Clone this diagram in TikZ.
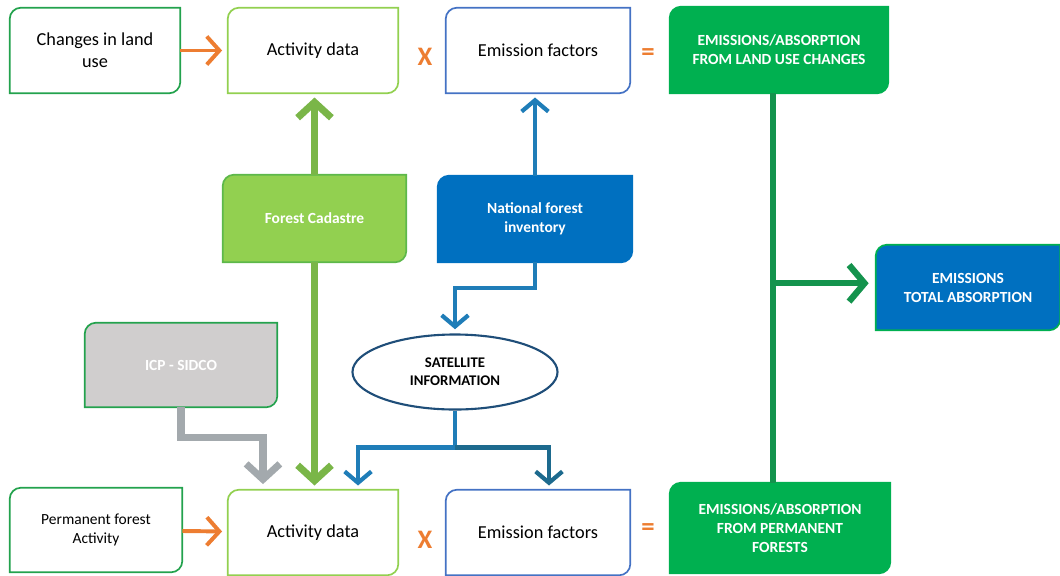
\documentclass[tikz,border=0pt]{standalone}
\usepackage{fontspec}
\setmainfont{Carlito}
\usetikzlibrary{arrows.meta,shapes.geometric,backgrounds}

\definecolor{landgreen}{HTML}{23A24D}
\definecolor{actgreen}{HTML}{92D050}
\definecolor{factorblue}{HTML}{4472C4}
\definecolor{emisgreen}{HTML}{00B050}
\definecolor{cadgreen}{HTML}{7AB648}
\definecolor{cadedge}{HTML}{5DB84A}
\definecolor{invblue}{HTML}{0070C0}
\definecolor{satblue}{HTML}{1F7DB8}
\definecolor{satdark}{HTML}{1D6A8E}
\definecolor{satedge}{HTML}{1F4E79}
\definecolor{icpgray}{HTML}{D0CECE}
\definecolor{linkgray}{HTML}{A3A9AD}
\definecolor{oporange}{HTML}{ED7D31}
\definecolor{sumgreen}{HTML}{14934D}

\begin{document}
\begin{tikzpicture}[
    x=0.025cm, y=-0.025cm,
    box/.style={
        minimum width=4.25cm,
        minimum height=2.125cm,
        align=center,
        inner sep=2pt,
        font=\fontsize{13}{15.6}\selectfont
    },
    solid box/.style={
        box,
        text=white,
        font=\fontsize{11}{13.5}\selectfont\bfseries
    },
    frame/.style={
        line width=1.2pt
    },
    op/.style={
        text=oporange,
        font=\fontsize{19}{19}\selectfont\bfseries
    },
    feed/.style={
        draw=oporange,
        line width=2.8pt,
        -{Straight Barb[length=9pt,width=20pt,sharp]},
        shorten >=4pt
    },
    cadastre link/.style={
        draw=cadgreen,
        line width=5pt,
        -{Straight Barb[length=11pt,width=24pt,sharp]},
        shorten >=3pt
    },
    inventory link/.style={
        draw=satblue,
        line width=3pt,
        -{Straight Barb[length=8pt,width=19pt,sharp]},
        shorten >=3pt
    },
    icp link/.style={
        draw=linkgray,
        line width=5pt,
        -{Straight Barb[length=11pt,width=24pt,sharp]},
        shorten >=4pt
    },
    trunk/.style={
        draw=sumgreen,
        line width=4.5pt
    },
    ]
    \useasboundingbox (0,0) rectangle (1060,575);

    % top row
    \node[box] (chg) at (95,50.5) {Changes in land\\use};
    \node[box] (ad1) at (313,50.5) {Activity data};
    \node[box, minimum width=4.6cm] (ef1) at (538,50.5) {Emission factors};
    \node[solid box, minimum width=5.45cm, minimum height=2.15cm] (elu) at (779,50)
        {EMISSIONS/ABSORPTION\\FROM LAND USE CHANGES};
    \node[op] (x1) at (425,57) {X};
    \node[op] (eq1) at (648,55) {=};

    % sources
    \node[solid box, minimum width=4.575cm, minimum height=2.175cm] (cad) at (314.5,218.5)
        {Forest Cadastre};
    \node[solid box, minimum width=4.85cm, minimum height=2.15cm] (nfi) at (535,219)
        {National forest\\inventory};
    \node[solid box, minimum width=4.8cm, minimum height=2.1cm] (icp) at (181,365)
        {ICP - SIDCO};
    \node[ellipse, draw=satedge, line width=1.5pt, fill=white, inner sep=0pt,
        minimum width=5.125cm, minimum height=1.875cm, align=center,
        font=\fontsize{10.5}{13}\selectfont\bfseries] (sat) at (455,372)
        {SATELLITE\\INFORMATION};
    \node[solid box, minimum width=4.6cm] (tot) at (968,287.5)
        {EMISSIONS\\TOTAL ABSORPTION};

    % bottom row
    \node[box, minimum width=4.3cm, minimum height=2.1cm,
        font=\fontsize{11}{13.5}\selectfont] (pfa) at (96,530)
        {Permanent forest\\Activity};
    \node[box] (ad2) at (313,532.5) {Activity data};
    \node[box, minimum width=4.6cm] (ef2) at (538,532.5) {Emission factors};
    \node[solid box, minimum width=5.5cm, minimum height=2.25cm] (epf) at (780,528)
        {EMISSIONS/ABSORPTION\\FROM PERMANENT\\FORESTS};
    \node[op] (x2) at (425,540) {X};
    \node[op] (eq2) at (648,530) {=};

    % boxes with two round corners
    \begin{scope}[on background layer]
    \foreach \n/\edge/\inside in {chg/landgreen/white, ad1/actgreen/white,
        ef1/factorblue/white, elu/emisgreen/emisgreen, cad/cadedge/actgreen,
        nfi/invblue/invblue, icp/landgreen/icpgray, tot/emisgreen/invblue,
        pfa/landgreen/white, ad2/actgreen/white, ef2/factorblue/white,
        epf/emisgreen/emisgreen}
        \draw[frame, draw=\edge, fill=\inside]
            (\n.south west) -- ([yshift=-8pt]\n.north west)
            arc[start angle=180, end angle=90, radius=8pt]
            -- (\n.north east) -- ([yshift=8pt]\n.south east)
            arc[start angle=0, end angle=-90, radius=8pt] -- cycle;
    \end{scope}

    % connectors
    \draw[feed] (chg) -- (ad1);
    \draw[feed] (pfa) -- (ad2);
    \draw[cadastre link] (cad.north) -- (cad.north |- ad1.south);
    \draw[cadastre link] (cad.south) -- (cad.south |- ad2.north);
    \draw[inventory link] (nfi.north) -- (nfi.north |- ef1.south);
    \draw[inventory link] (nfi.south) -- ++(0,26) -| (sat.north);
    \draw[icp link] (icp.south) -- ++(0,30) -| ([xshift=-1.25cm]ad2.north);
    \draw[inventory link] (sat.south) -- ++(0,37) coordinate (split)
        -| ([xshift=1.125cm]ad2.north);
    \draw[inventory link, draw=satdark] (split) -| ([xshift=0.275cm]ef2.north);

    \coordinate (trunk top) at ([xshift=-1.5mm]elu.south);
    \draw[trunk] (trunk top) -- (trunk top |- epf.north);
    \draw[trunk, -{Straight Barb[length=11pt,width=26pt,sharp]}, shorten >=5pt]
        ([yshift=3pt]trunk top |- tot.west) -- ([yshift=3pt]tot.west);
\end{tikzpicture}
\end{document}
